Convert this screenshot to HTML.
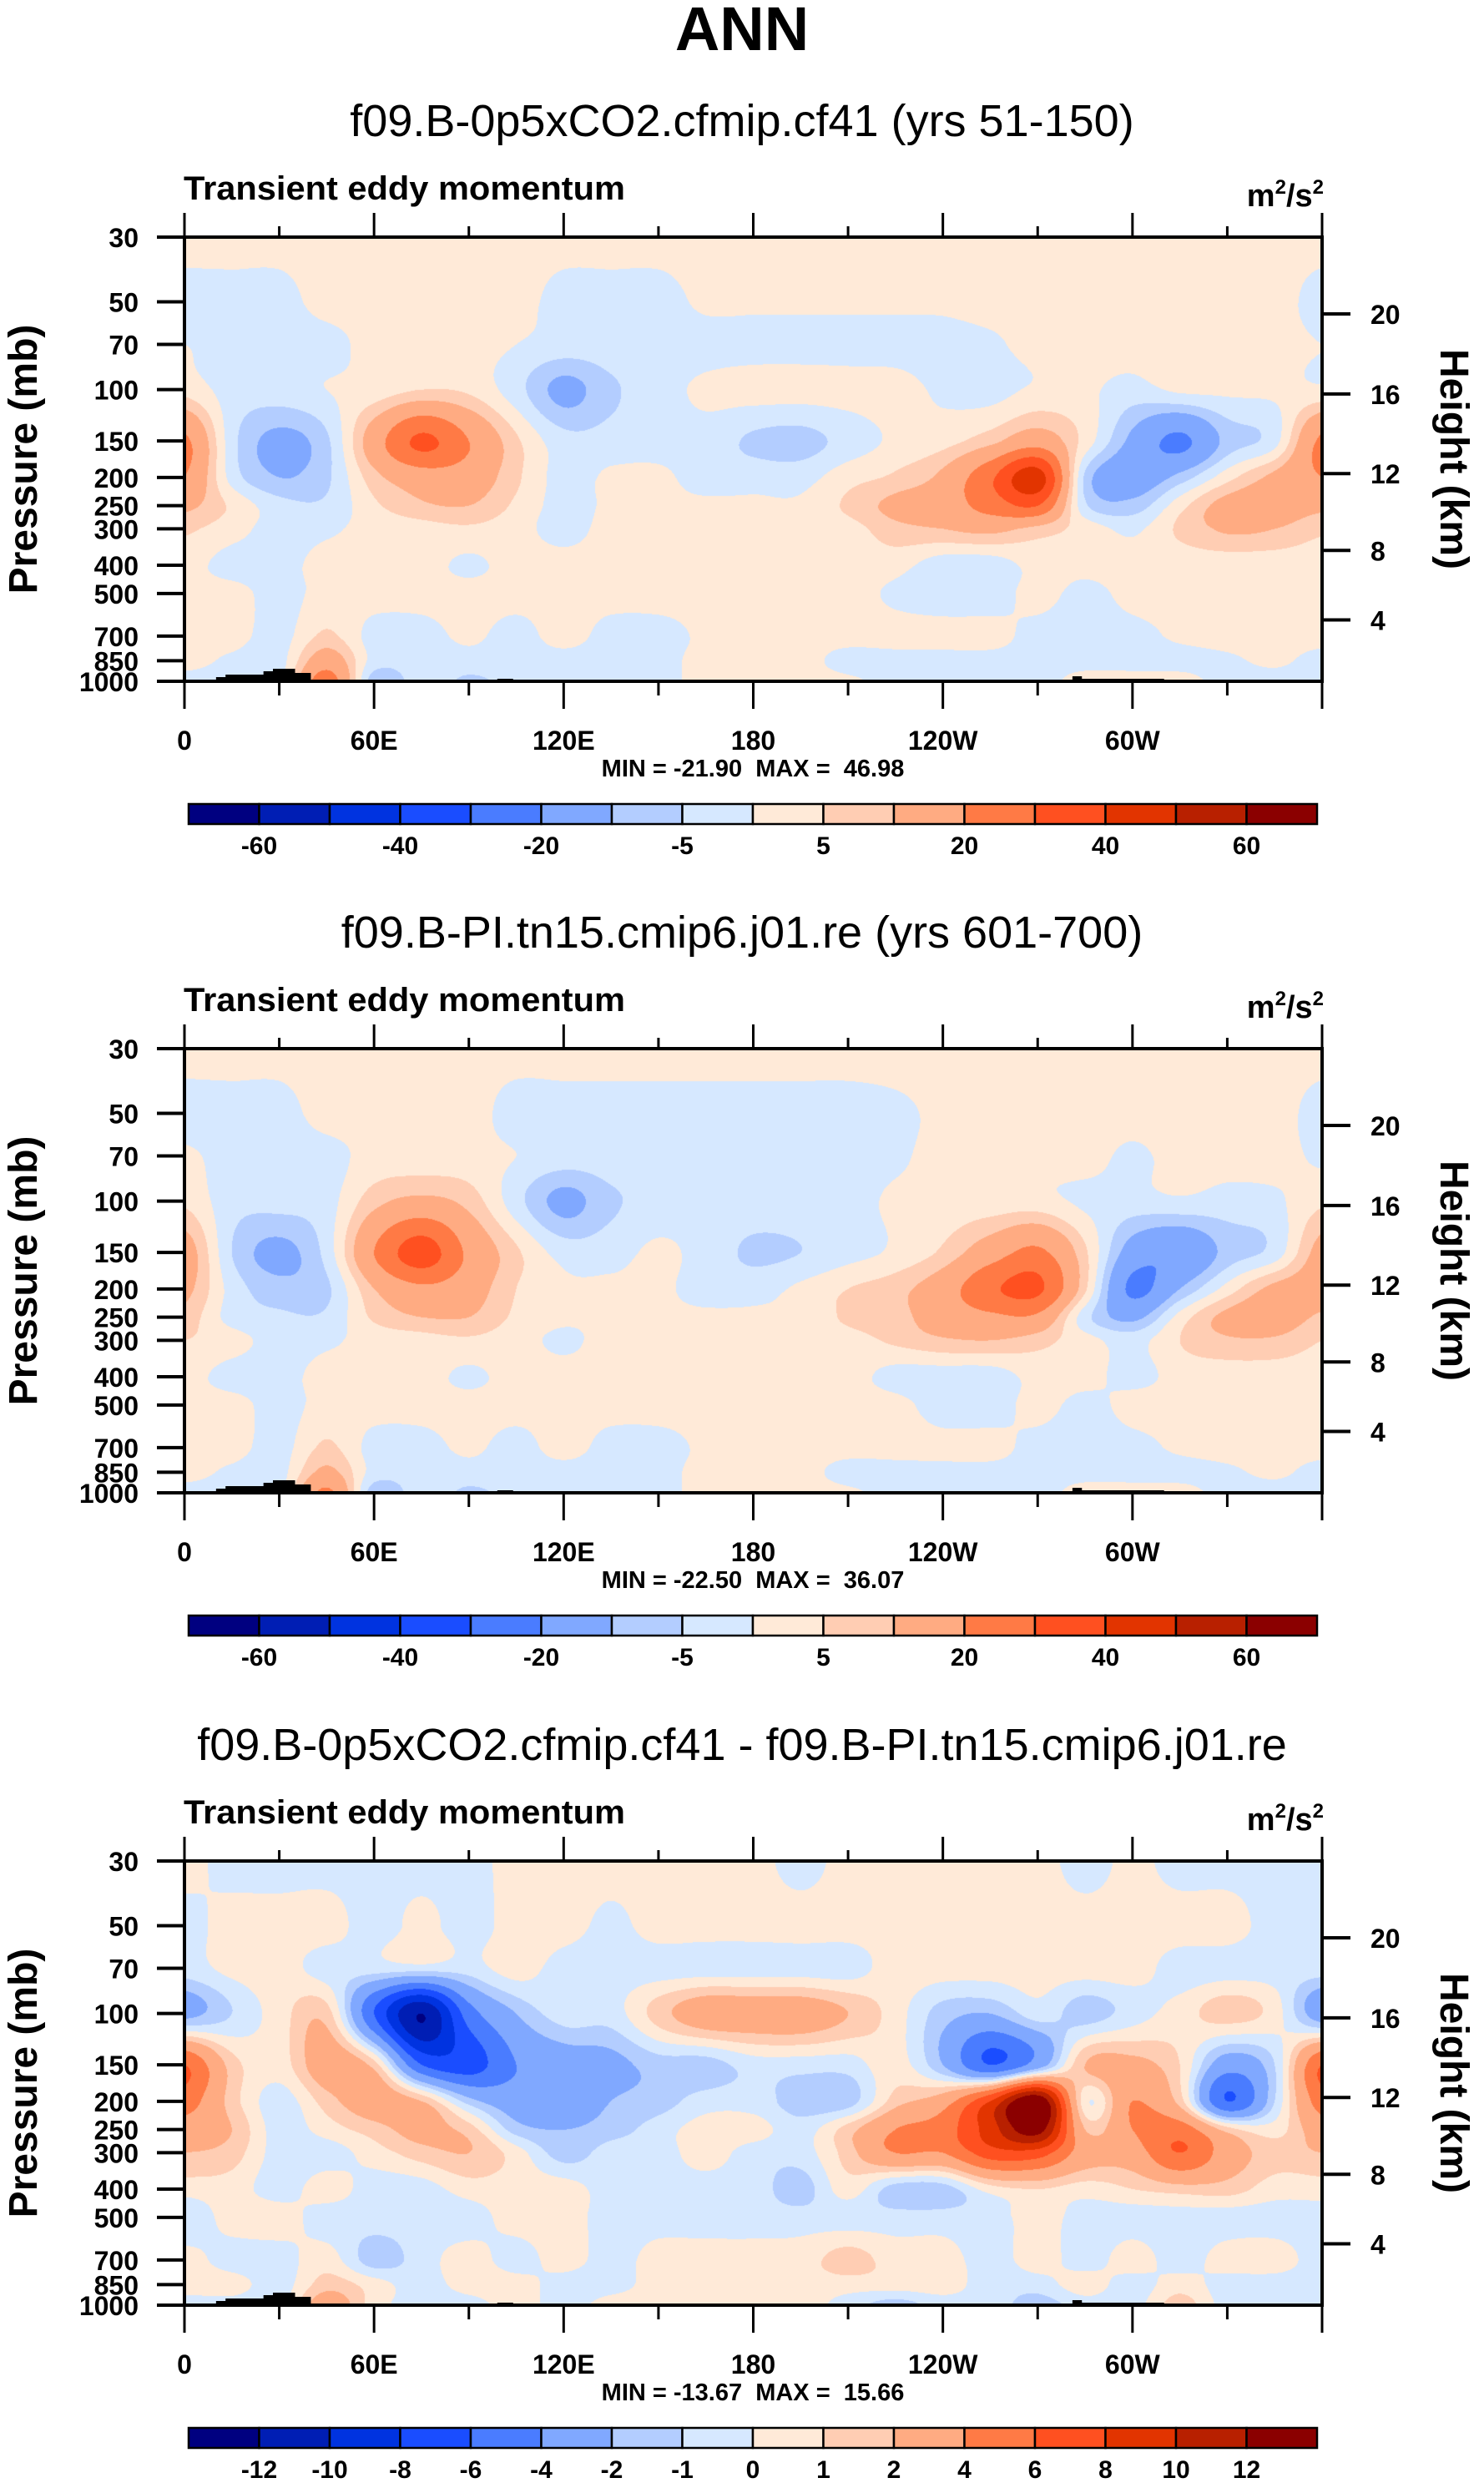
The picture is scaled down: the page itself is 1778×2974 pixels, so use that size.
<!DOCTYPE html>
<html><head><meta charset="utf-8"><style>
html,body{margin:0;padding:0;background:#fff;}
#root{position:relative;width:1778px;height:2974px;overflow:hidden;font-family:"Liberation Sans",sans-serif;}
canvas{position:absolute;}
svg{position:absolute;left:0;top:0;}
</style></head><body>
<div id="root">
<canvas id="c0" width="1363" height="532" style="left:221px;top:284px"></canvas>
<canvas id="c1" width="1363" height="532" style="left:221px;top:1256px"></canvas>
<canvas id="c2" width="1363" height="532" style="left:221px;top:2229px"></canvas>
<svg id="s" width="1778" height="2974">
<text x="889" y="60" text-anchor="middle" font-size="74" font-weight="bold" font-family="Liberation Sans, sans-serif">ANN</text>
</svg>
</div>
<script>
// ---- data ----
const lons = [0,15,30,45,60,75,90,105,120,135,150,165,180,195,210,225,240,255,270,285,300,315,330,345,360];
const pressures = [30,50,70,100,150,200,250,300,400,500,700,850,1000];
const heightTicksKm = [4,8,12,16,20];
const heightTickPressures = [616,356,194,103.5,55];
const pressureTickLabels = ["30","50","70","100","150","200","250","300","400","500","700","850","1000"];
const lonTickLabels = ["0","60E","120E","180","120W","60W"];
const lonTickValues = [0,60,120,180,240,300];
const levelsAbs = [-60,-50,-40,-30,-20,-10,-5,0,5,10,20,30,40,50,60];
const levelLabelsAbs = ["-60","","-40","","-20","","-5","","5","","20","","40","","60"];
const levelsDiff = [-12,-10,-8,-6,-4,-2,-1,0,1,2,4,6,8,10,12];
const levelLabelsDiff = ["-12","-10","-8","-6","-4","-2","-1","0","1","2","4","6","8","10","12"];
const colors = ["#000080","#001eb4","#0033e0","#1a4dff","#4a7cff","#80a8ff","#b3cdff","#d6e8ff","#ffead8","#ffcdb3","#ffab82","#ff7a45","#ff5020","#e23400","#b82000","#8b0000"];
const subtitles = ["f09.B-0p5xCO2.cfmip.cf41 (yrs 51-150)","f09.B-PI.tn15.cmip6.j01.re (yrs 601-700)","f09.B-0p5xCO2.cfmip.cf41 - f09.B-PI.tn15.cmip6.j01.re"];
const minmax = ["MIN = -21.90  MAX =  46.98","MIN = -22.50  MAX =  36.07","MIN = -13.67  MAX =  15.66"];

const field1 = [
[2,2,2,2,2,2,2,2,2,2,2,2,2,2,2,2,2,2,2,2,2,2,2,2,2],
[-2,-2,-2,2,2,2,2,2,-2,-2,-2,1,1,1,1,1,1,2,2,2,2,2,2,2,-2],
[0,-2,-2,-2,2,2,2,0,-2,-2,-2,-2,-2,-2,-2,-2,-2,-1,2,2,2,2,2,2,0],
[3,-2,-2,0,2,5,4,-3,-12,-6,-2,1,2,2,2,2,-1,-2,1,1,-2,1,1,1,1],
[22,-3,-12,-6,15,32,20,6,-3,-3,-2,-2,-6,-7,-3,1,3,8,15,3,-12,-22,-8,-2,22],
[20,-2,-10,-6,8,15,15,6,-2,1,1,-2,-2,-2,3,6,12,28,45,-6,-15,-8,3,12,20],
[12,4,-3,-4,4,9,10,4,-2,1,1,1,1,1,6,12,15,24,30,-4,-8,3,13,14,12],
[6,2,-2,-1,2,3,4,2,-2,2,2,2,2,2,3,8,10,12,8,3,-1,6,11,10,6],
[2,-2,-2,2,2,2,-1,2,2,2,2,2,2,2,2,2,-3,-3,2,2,2,2,2,2,2],
[2,2,-2,2,2,2,2,2,2,2,2,2,2,2,2,-1,-3,-3,2,-2,2,2,2,2,2],
[2,2,-2,6,-2,-2,1,-2,2,-2,-2,1,2,2,2,2,2,2,-2,-3,-2,1,2,2,2],
[2,-1,-2,15,-2,-2,-2,-2,-2,-2,-2,2,2,2,-2,-2,-2,-2,-2,-2,-2,-2,-1,1,-2],
[-2,-2,-2,25,-8,-2,-6,-3,-2,-2,-2,2,2,2,1,-2,-2,-2,-2,2,2,2,-2,-2,-2]
];
const field2 = [
[2,2,2,2,2,2,2,2,2,2,2,2,2,2,2,2,2,2,2,2,2,2,2,2,2],
[-2,-2,-2,2,2,2,2,-2,-2,-2,-2,-2,-2,-2,-2,-1,1,2,2,2,2,2,2,2,-2],
[1,-2,-2,-2,2,2,2,0,-2,-2,-2,-2,-2,-2,-2,-1,2,2,2,2,-1,2,2,2,-1],
[4,-3,-3,-2,8,12,8,-3,-12,-6,-3,-2,-2,-2,-2,1,2,2,2,-1,-2,-1,-2,-1,4],
[14,-5,-12,-3,20,35,18,6,-2,-2,1,-2,-6,-5,-2,1,6,15,22,6,-14,-18,-8,-3,13],
[12,-2,-8,-6,10,18,14,5,1,1,1,-2,-2,1,5,8,15,28,32,6,-22,-10,2,12,14],
[8,-2,-4,-4,6,10,10,4,1,1,1,1,1,1,6,8,14,18,18,-3,-12,2,12,14,9],
[5,2,-2,-1,2,3,4,2,-1,2,2,2,2,2,3,6,9,10,7,2,-2,5,9,9,5],
[2,-2,-2,2,2,2,-1,2,2,2,2,2,2,2,2,-2,-3,-3,2,2,-2,2,2,2,2],
[2,2,-2,2,2,2,2,2,2,2,2,2,2,2,2,2,-3,-3,2,-2,2,2,2,2,2],
[2,2,-2,6,-2,-2,1,-2,2,-2,-2,1,2,2,2,2,2,2,-2,-3,-2,1,2,2,2],
[2,-1,-2,12,-2,-2,-2,-2,-2,-2,-2,2,2,2,-2,-2,-2,-2,-2,-2,-2,-2,-1,1,-2],
[-2,-2,-2,22,-8,-2,-6,-3,-2,-2,-2,2,2,2,1,-2,-2,-2,-2,2,2,2,-2,-2,-2]
];
const field3 = [
[0.5,-0.5,-0.5,-0.5,-0.5,-0.5,-0.5,0.5,0.5,0.5,0.5,0.5,0.5,-0.5,0.5,0.5,0.5,0.5,0.5,-0.5,0.3,-0.5,-0.5,-0.5,-0.5],
[-0.5,0.5,0.5,0.5,-0.5,0.3,-0.5,0.5,0.5,-0.3,0.5,0.5,0.5,0.5,0.5,0.5,0.5,0.5,0.5,0.5,0.5,0.5,0.5,-0.5,-0.5],
[-0.5,0.3,0.5,-0.5,-0.5,-0.5,-0.5,0.5,-0.5,-0.5,-0.5,-0.5,-0.5,-0.5,-0.5,0.5,0.5,0.5,0.5,0.5,0.5,-0.5,-0.5,-0.5,-0.5],
[-2.5,-1,0.5,1.5,-6,-12,-5,-2,-0.5,-0.5,1.5,3,3,3,2,0.5,-1.5,-2,-0.5,-1.5,-0.5,0.5,1.5,0.5,-3],
[6,1.5,0.5,3,1.5,-6,-7,-4,-3,-2.5,-1.5,-1.5,-0.5,-0.5,-0.5,0.5,-2,-6,-3,2,2.5,1,-3,-1,6],
[5,1.5,-0.5,1.5,3,2,-1.5,-3,-3,-2,-1.5,-0.5,-0.5,-1.5,-1.5,1.5,3,8,14,0.3,4,1.5,-6,-1,5],
[3,2,-0.5,0.5,1.5,2.5,1.5,-1.5,-2,-1.5,-0.5,0.5,0.5,-0.5,1.5,4,5,9,13,2,4,5,1.5,0.5,3],
[2,1.5,-0.5,-0.5,0.5,1.5,2,0.5,-1.5,-0.5,-0.5,0.5,-0.5,-0.5,1.5,4,4,7,7,3,3,6,3,1.5,2],
[0.5,0.5,-0.5,0.5,-0.5,-0.5,0.5,0.5,0.5,-0.5,-0.5,-0.5,-0.5,-1.5,0.5,-1.5,-1.5,0.5,1,0.5,1,1.5,1.5,0.5,0.5],
[-1,0.5,0.5,-0.5,-0.5,-0.5,-0.5,0.5,0.5,-0.5,-0.5,-0.5,-0.5,-0.5,-0.5,-0.5,-0.5,-0.5,0.5,-0.5,-0.5,-0.5,-0.5,-0.5,-0.5],
[0.5,-0.5,-0.5,0.5,-1.5,-0.5,0.5,-0.5,0.5,-0.5,0.5,0.5,0.5,0.5,1.5,0.5,0.5,-0.5,0.5,-0.5,0.5,-0.5,0.5,0.5,-0.5],
[0.5,0.5,-0.5,1.5,0.5,-0.5,0.5,0.5,-0.5,-0.5,0.5,0.5,0.5,0.5,0.5,0.5,0.5,-0.5,-0.5,0.5,-0.5,0.5,-0.5,-0.5,-0.5],
[-0.5,-0.5,-0.5,3,0.5,-0.5,-0.5,0.5,-0.5,0.5,0.5,0.5,0.5,0.5,-0.5,-1.5,-0.5,-0.5,-1.5,-0.5,-0.5,1.5,-0.5,-0.5,-0.5]
];
const fields = [field1, field2, field3];
const fieldLevels = [levelsAbs, levelsAbs, levelsDiff];
const fieldLabels = [levelLabelsAbs, levelLabelsAbs, levelLabelsDiff];

// ---- layout ----
const X0 = 221, X1 = 1584, PT = [284,1256,2229], PH = 532;
const NS = "http://www.w3.org/2000/svg";
const svg = document.getElementById('s');
function xOf(lon){ return X0 + lon/360*(X1-X0); }
function yOf(p, top){ return top + Math.log(p/30)/Math.log(1000/30)*PH; }
function hexRgb(h){ return [parseInt(h.substr(1,2),16),parseInt(h.substr(3,2),16),parseInt(h.substr(5,2),16)]; }
const rgb = colors.map(hexRgb);
function mk(tag, attrs){ const e=document.createElementNS(NS,tag); for(const k in attrs) e.setAttribute(k,attrs[k]); svg.appendChild(e); return e; }
function cr(p0,p1,p2,p3,t){ return 0.5*((2*p1)+(-p0+p2)*t+(2*p0-5*p1+4*p2-p3)*t*t+(-p0+3*p1-3*p2+p3)*t*t*t); }

function drawField(k){
  const cv = document.getElementById('c'+k), ctx = cv.getContext('2d');
  const W = cv.width, H = cv.height, F = fields[k], L = fieldLevels[k];
  const img = ctx.createImageData(W,H);
  const lnP = pressures.map(p=>Math.log(p/30)/Math.log(1000/30)*H);
  const nr = pressures.length, nc = lons.length;
  const rowF = new Float32Array(H);
  for(let y=0;y<H;y++){ let r=0; while(r<nr-2 && lnP[r+1]<y+0.5) r++; rowF[y]= r + Math.min(1,Math.max(0,(y+0.5-lnP[r])/(lnP[r+1]-lnP[r]))); }
  const g=(r,c)=>F[Math.max(0,Math.min(nr-1,r))][Math.max(0,Math.min(nc-1,c))];
  for(let x=0;x<W;x++){
    const cf = (x+0.5)/W*(nc-1); const c=Math.min(nc-2,Math.floor(cf)); const tc=cf-c;
    const colv = [];
    for(let r=-1;r<=nr;r++) colv.push(cr(g(r,c-1),g(r,c),g(r,c+1),g(r,c+2),tc));
    for(let y=0;y<H;y++){
      const rf=rowF[y]; const r=Math.min(nr-2,Math.floor(rf)); const tr=rf-r;
      const v = cr(colv[r],colv[r+1],colv[r+2],colv[r+3],tr);
      let i=0; while(i<L.length && v>=L[i]) i++;
      const col=rgb[i], o=(y*W+x)*4;
      img.data[o]=col[0]; img.data[o+1]=col[1]; img.data[o+2]=col[2]; img.data[o+3]=255;
    }
  }
  ctx.putImageData(img,0,0);
}

for(let k=0;k<3;k++){
  drawField(k);
  const T = PT[k], B = T+PH, off = T-284;
  let e;
  e = mk('text',{x:889,y:163+off,'text-anchor':'middle','font-size':54,'font-family':'Liberation Sans, sans-serif'});
    e.textContent=subtitles[k];
  e = mk('text',{x:220,y:239+off,'font-size':40,'font-weight':'bold','font-family':'Liberation Sans, sans-serif',textLength:529,lengthAdjust:'spacingAndGlyphs'});
    e.textContent='Transient eddy momentum';
  e = mk('text',{x:1586,y:247+off,'text-anchor':'end','font-size':38,'font-weight':'bold','font-family':'Liberation Sans, sans-serif'});
   
  e.innerHTML='m<tspan dy="-15" font-size="24">2</tspan><tspan dy="15">/s</tspan><tspan dy="-15" font-size="24">2</tspan>';
  const topo = mk('path',{d:`M${xOf(10)},${B} L${xOf(10)},${B-5} L${xOf(13)},${B-5} L${xOf(13)},${B-8} L${xOf(25)},${B-8} L${xOf(25)},${B-12} L${xOf(28)},${B-12} L${xOf(28)},${B-15} L${xOf(35)},${B-15} L${xOf(35)},${B-10} L${xOf(40)},${B-10} L${xOf(40)},${B} Z M${xOf(281)},${B} L${xOf(281)},${B-6} L${xOf(284)},${B-6} L${xOf(284)},${B-3} L${xOf(310)},${B-3} L${xOf(310)},${B} Z M${xOf(99)},${B} L${xOf(99)},${B-3} L${xOf(104)},${B-3} L${xOf(104)},${B} Z`,fill:'#000'});
   
  const fr = mk('rect',{x:X0,y:T,width:X1-X0,height:PH,fill:'none',stroke:'#000','stroke-width':4});
   
  for(let lon=0;lon<=360;lon+=30){
    const major = lon%60===0, x=xOf(lon), len = major?33:17;
    e=mk('line',{x1:x,x2:x,y1:B,y2:B+len,stroke:'#000','stroke-width':3});
     
    e=mk('line',{x1:x,x2:x,y1:T,y2:T-len+4,stroke:'#000','stroke-width':3});
     
  }
  lonTickValues.forEach((lon,i)=>{
    const t=mk('text',{x:xOf(lon),y:B+82,'text-anchor':'middle','font-size':32,'font-weight':'bold','font-family':'Liberation Sans, sans-serif'});
      t.textContent=lonTickLabels[i];
  });
  pressures.forEach((p,i)=>{
    const y=yOf(p,T);
    e=mk('line',{x1:188,x2:X0,y1:y,y2:y,stroke:'#000','stroke-width':4});
     
    const t=mk('text',{x:166,y:y+12,'text-anchor':'end','font-size':32,'font-weight':'bold','font-family':'Liberation Sans, sans-serif'});
      t.textContent=pressureTickLabels[i];
  });
  heightTickPressures.forEach((p,i)=>{
    const y=yOf(p,T);
    e=mk('line',{x1:X1,x2:1618,y1:y,y2:y,stroke:'#000','stroke-width':4});
     
    const t=mk('text',{x:1642,y:y+12,'font-size':32,'font-weight':'bold','font-family':'Liberation Sans, sans-serif'});
      t.textContent=String(heightTicksKm[i]);
  });
  e=mk('text',{x:0,y:0,'text-anchor':'middle','font-size':48,'font-weight':'bold','font-family':'Liberation Sans, sans-serif',transform:`translate(44,${550+off}) rotate(-90)`});
    e.textContent='Pressure (mb)';
  e=mk('text',{x:0,y:0,'text-anchor':'middle','font-size':48,'font-weight':'bold','font-family':'Liberation Sans, sans-serif',transform:`translate(1726,${550+off}) rotate(90)`});
    e.textContent='Height (km)';
  e=mk('text',{x:902,y:930+off,'text-anchor':'middle','font-size':29,'font-weight':'bold','font-family':'Liberation Sans, sans-serif',style:'white-space:pre'});
    e.textContent=minmax[k];
  const cbx0=226, cbx1=1578, bw=(cbx1-cbx0)/16, cy=963+off;
  for(let i=0;i<16;i++){
    e=mk('rect',{x:cbx0+i*bw,y:cy,width:bw,height:24,fill:colors[i],stroke:'#000','stroke-width':2.5});
     
  }
  fieldLabels[k].forEach((lab,i)=>{
    if(!lab) return;
    const t=mk('text',{x:cbx0+(i+1)*bw,y:1023+off,'text-anchor':'middle','font-size':30,'font-weight':'bold','font-family':'Liberation Sans, sans-serif'});
      t.textContent=lab;
  });
}
</script>
</body></html>
